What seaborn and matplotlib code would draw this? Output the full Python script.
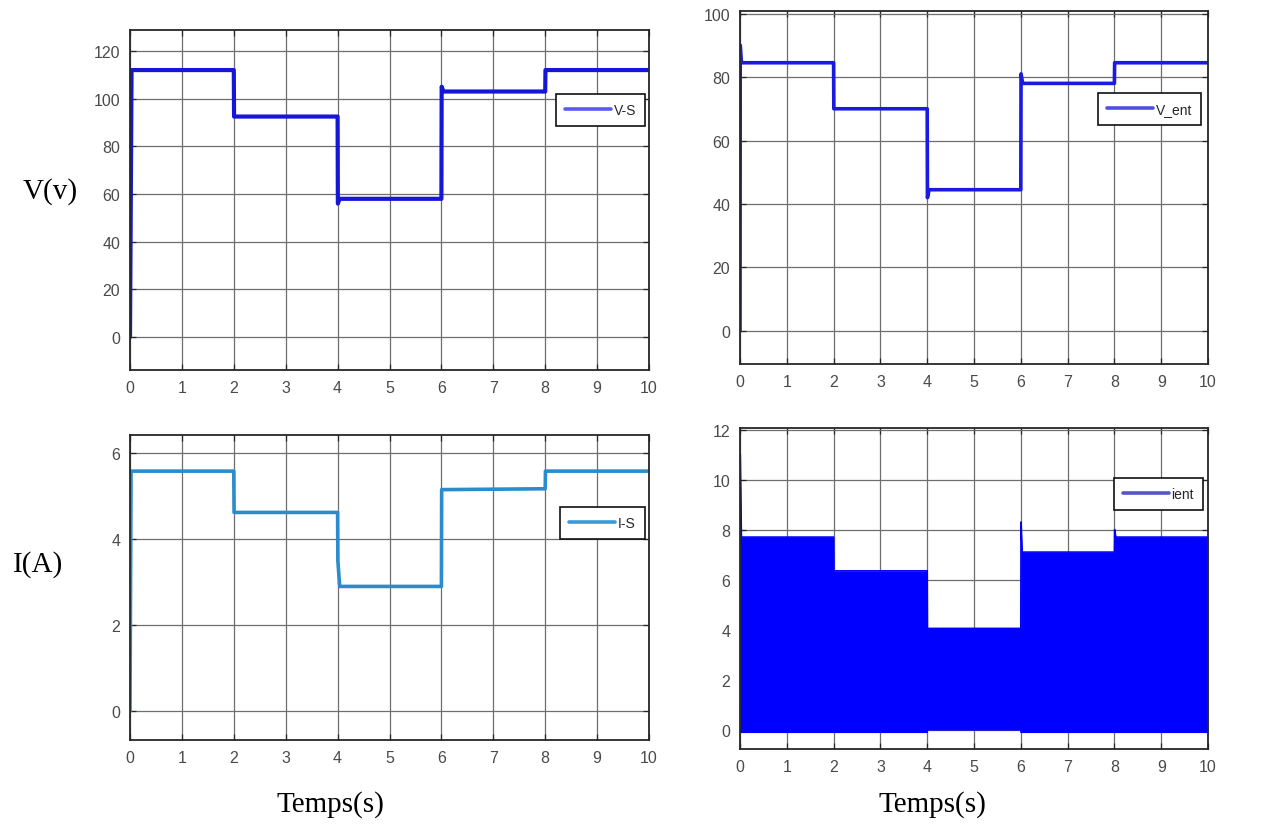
import numpy as np
import pandas as pd
import matplotlib
matplotlib.use("Agg")
import matplotlib.pyplot as plt
from matplotlib.lines import Line2D
from matplotlib import font_manager
import seaborn as sns

# ---------------- data ----------------
vs_t = [0.0, 0.03, 2.0, 2.005, 4.0, 4.005, 4.04, 6.0, 6.005, 6.04, 8.0, 8.005, 10.0]
vs_v = [0.0, 112.0, 112.0, 92.5, 92.5, 56.0, 58.0, 58.0, 105.0, 103.0, 103.0, 112.0, 112.0]

vent_t = [0.0, 0.005, 0.03, 2.0, 2.005, 4.0, 4.005, 4.04, 6.0, 6.005, 6.04, 8.0, 8.005, 10.0]
vent_v = [0.0, 90.0, 84.5, 84.5, 70.0, 70.0, 42.0, 44.5, 44.5, 81.0, 78.0, 78.0, 84.5, 84.5]

is_t = [0.0, 0.02, 2.0, 2.005, 4.0, 4.005, 4.04, 6.0, 6.005, 8.0, 8.005, 10.0]
is_v = [0.0, 5.58, 5.58, 4.62, 4.62, 3.5, 2.9, 2.9, 5.15, 5.17, 5.58, 5.58]

ient_t = [0.0, 0.005, 0.03, 2.0, 2.005, 4.0, 4.005, 6.0, 6.005, 6.03, 8.0, 8.005, 8.03, 10.0]
ient_hi = [0.0, 11.0, 7.7, 7.7, 6.35, 6.35, 4.05, 4.05, 8.3, 7.1, 7.1, 8.0, 7.7, 7.7]
ient_lo = [0.0, -0.1, -0.1, -0.1, -0.1, -0.1, 0.0, 0.0, -0.1, -0.1, -0.1, -0.1, -0.1, -0.1]

x_ticks = list(range(0, 11))
vs_yticks = [0, 20, 40, 60, 80, 100, 120]
vent_yticks = [0, 20, 40, 60, 80, 100]
is_yticks = [0, 2, 4, 6]
ient_yticks = [0, 2, 4, 6, 8, 10, 12]

labels = ["V-S", "V_ent", "I-S", "ient"]

# ---------------- style ----------------
sns.set_theme(style="white")
avail = {f.name for f in font_manager.fontManager.ttflist}
tick_font = "Liberation Sans Narrow" if "Liberation Sans Narrow" in avail else "Liberation Sans"
plt.rcParams['font.family'] = [tick_font, 'DejaVu Sans']
serif = ["Liberation Serif", "DejaVu Serif"]

W, H = 1267, 829
fig = plt.figure(figsize=(W / 100, H / 100), dpi=100)


def px_axes(l, t, r, b):
    return fig.add_axes([l / W, 1 - b / H, (r - l) / W, (b - t) / H])


ax_vs = px_axes(130, 31, 649, 371)
ax_vent = px_axes(740, 12, 1208, 365)
ax_is = px_axes(130, 436, 649, 741)
ax_ient = px_axes(740, 429, 1208, 750)


def style(ax, yticks, ylim):
    ax.set_xlim(0, 10)
    ax.set_ylim(*ylim)
    ax.set_xticks(x_ticks)
    ax.set_yticks(yticks)
    ax.grid(True, color="#6e6e6e", lw=0.9)
    ax.set_axisbelow(True)
    for s in ax.spines.values():
        s.set_color("#262626")
        s.set_linewidth(1.3)
    ax.tick_params(direction="in", length=4, width=0.9, colors="#262626",
                   labelcolor="#4a4a4a", labelsize=11.5, top=True, right=True,
                   bottom=True, left=True, pad=7)
    ax.set_xlabel("")
    ax.set_ylabel("")


def legend(ax, label, color, anchor):
    h = [Line2D([0], [0], color=color, lw=2.6)]
    lg = ax.legend(h, [label], loc="upper right", bbox_to_anchor=anchor,
                   fontsize=10, handlelength=3.3, handletextpad=0.2,
                   borderpad=0.65, fancybox=False, framealpha=1,
                   edgecolor="#111111", borderaxespad=0)
    lg.get_frame().set_linewidth(1.2)


# V-S
sns.lineplot(x=vs_t, y=vs_v, ax=ax_vs, color="#1616d8", lw=3.0, estimator=None, sort=False)
style(ax_vs, vs_yticks, (-13.8, 128.8))
legend(ax_vs, labels[0], "#5a5af0", (0.992, 0.812))

# V_ent
sns.lineplot(x=vent_t, y=vent_v, ax=ax_vent, color="#1a1ae0", lw=2.6, estimator=None, sort=False)
style(ax_vent, vent_yticks, (-10.4, 100.8))
legend(ax_vent, labels[1], "#5050e0", (0.985, 0.768))

# I-S
sns.lineplot(x=is_t, y=is_v, ax=ax_is, color="#2a8ccc", lw=2.6, estimator=None, sort=False)
style(ax_is, is_yticks, (-0.67, 6.42))
legend(ax_is, labels[2], "#3a9ad9", (0.992, 0.764))

# ient (high-frequency ripple drawn as its envelope band)
ax_ient.fill_between(ient_t, ient_lo, ient_hi, color="#0000ff", lw=0, zorder=2)
sns.lineplot(x=ient_t, y=ient_hi, ax=ax_ient, color="#0000ff", lw=1.2, estimator=None, sort=False)
sns.lineplot(x=ient_t, y=ient_lo, ax=ax_ient, color="#0000ff", lw=1.2, estimator=None, sort=False)
style(ax_ient, ient_yticks, (-0.77, 12.06))
legend(ax_ient, labels[3], "#5656c4", (0.989, 0.844))

# outer labels
fig.text(50 / W, 1 - 192 / H, "V(v)", family=serif, fontsize=21, color="black",
         ha="center", va="center")
fig.text(38 / W, 1 - 565 / H, "I(A)", family=serif, fontsize=21, color="black",
         ha="center", va="center")
fig.text(330 / W, 1 - 805 / H, "Temps(s)", family=serif, fontsize=21, color="black",
         ha="center", va="center")
fig.text(932 / W, 1 - 805 / H, "Temps(s)", family=serif, fontsize=21, color="black",
         ha="center", va="center")

fig.savefig("out.png", dpi=100, facecolor="white")
